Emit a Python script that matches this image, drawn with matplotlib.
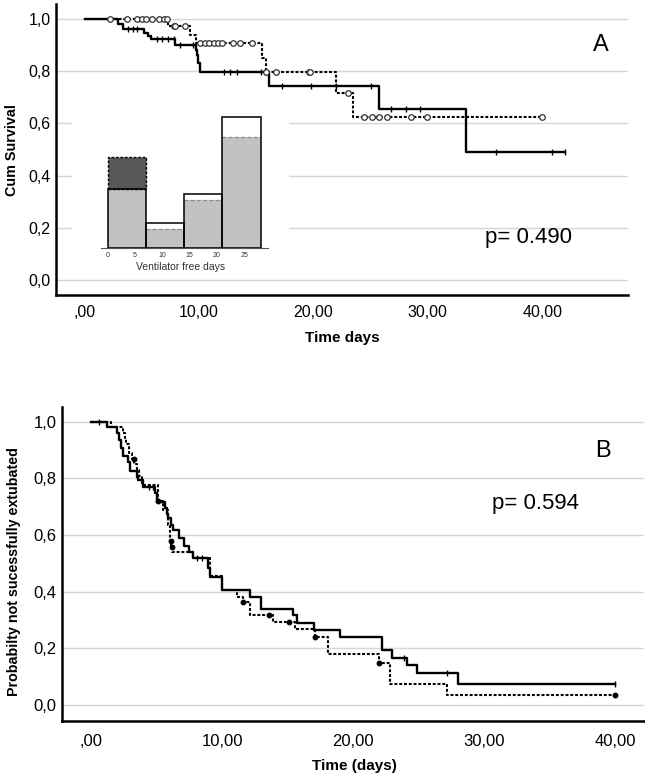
import numpy as np
import matplotlib
matplotlib.use("Agg")
import matplotlib.pyplot as plt

plt.rcParams['font.family'] = ['Liberation Sans', 'DejaVu Sans']

# panel A: cumulative survival (solid / dotted group)
a_solid_t = [0, 2.9, 3.4, 5.15, 5.58, 5.8, 7.9, 9.75, 9.85, 9.95, 10.1, 16.1, 25.7, 33.3]
a_solid_s = [1.0, 0.978, 0.96, 0.944, 0.932, 0.921, 0.90, 0.88, 0.86, 0.83, 0.797, 0.744, 0.653, 0.489]
a_solid_end = 42.0
a_solid_cens = [3.8, 4.2, 4.6, 6.3, 6.8, 7.3, 7.8, 8.3, 9.5, 12.2, 12.7, 13.3, 15.4, 15.8,
                17.25, 19.8, 22.0, 25.0, 26.8, 28.1, 29.3, 36.0, 40.9, 42.0]

a_dot_t = [0, 7.33, 9.2, 9.7, 15.5, 15.9, 22.0, 23.5]
a_dot_s = [1.0, 0.972, 0.938, 0.906, 0.848, 0.795, 0.714, 0.623]
a_dot_end = 40.0
a_dot_cens = [2.2, 3.7, 4.6, 5.0, 5.4, 5.9, 6.5, 6.9, 7.2, 7.8, 7.9, 8.8, 10.1, 10.5, 10.9,
              11.3, 11.7, 12.0, 13.0, 13.6, 14.6, 15.9, 16.7, 19.6, 19.7, 23.0, 24.4, 25.1,
              25.7, 26.4, 28.5, 29.9, 40.0]

# inset: ventilator free days (proportions per bin)
vfd_edges = [0, 7, 14, 21, 28]
vfd_solid = [0.222, 0.093, 0.202, 0.486]
vfd_dot = [0.34, 0.071, 0.18, 0.414]
vfd_ticks = [0, 5, 10, 15, 20, 25]

# panel B: probability not successfully extubated
b_solid_t = [0, 1.23, 1.95, 2.12, 2.25, 2.40, 2.78, 2.96, 3.47, 3.6, 3.98, 4.87, 5.0, 5.63,
             5.76, 5.89, 6.07, 6.27, 6.7, 7.1, 7.45, 7.75, 8.9, 9.05, 10.0, 12.1, 13.0, 15.4,
             15.7, 17.0, 19.0, 22.2, 23.0, 24.1, 24.9, 28.0]
b_solid_s = [1.0, 0.982, 0.959, 0.936, 0.906, 0.88, 0.859, 0.826, 0.806, 0.794, 0.771, 0.747,
             0.718, 0.694, 0.676, 0.659, 0.635, 0.618, 0.59, 0.56, 0.541, 0.518, 0.483, 0.452,
             0.406, 0.38, 0.338, 0.318, 0.291, 0.266, 0.24, 0.195, 0.168, 0.14, 0.113, 0.075]
b_solid_end = 40.0
b_solid_cens = [0.6, 4.4, 4.7, 8.1, 8.5, 23.9, 27.2, 40.0]

b_dot_t = [0, 1.5, 2.45, 2.6, 2.7, 2.9, 3.15, 3.3, 3.5, 3.65, 3.9, 5.1, 5.5, 5.9, 6.0, 6.1,
           6.2, 7.8, 9.1, 10.0, 11.1, 11.6, 12.1, 13.9, 15.55, 17.1, 18.1, 22.0, 22.8, 27.2]
b_dot_s = [1.0, 0.98, 0.96, 0.94, 0.92, 0.89, 0.87, 0.85, 0.83, 0.81, 0.775, 0.72, 0.69, 0.636,
           0.58, 0.559, 0.542, 0.518, 0.454, 0.407, 0.38, 0.365, 0.318, 0.295, 0.268, 0.24,
           0.18, 0.148, 0.075, 0.036]
b_dot_end = 40.0
b_dot_cens = [3.25, 5.14, 6.09, 6.15, 11.6, 13.6, 15.1, 17.1, 22.0, 40.0]

x_ticks = [0, 10, 20, 30, 40]
x_labels = [',00', '10,00', '20,00', '30,00', '40,00']
y_ticks = [0, 0.2, 0.4, 0.6, 0.8, 1.0]
y_labels = ['0,0', '0,2', '0,4', '0,6', '0,8', '1,0']

W, H = 645, 779
fig = plt.figure(figsize=(W / 100, H / 100), dpi=100)


def px_box(l, t, r, b):
    return [l / W, 1 - b / H, (r - l) / W, (b - t) / H]


def km(ax, t, s, end, cens, dotted, mk, **mkw):
    t = np.array(t)
    s = np.array(s)
    xs = np.append(t, end)
    ys = np.append(s, s[-1])
    if dotted:
        ax.step(xs, ys, where='post', color='black', lw=1.5, ls=(0, (1.4, 0.9)), zorder=4)
    else:
        ax.step(xs, ys, where='post', color='black', lw=1.7, zorder=5)
    c = np.array(cens)
    cy = s[np.searchsorted(t, c, side='right') - 1]
    ax.plot(c, cy, ls='none', marker=mk, zorder=6, **mkw)


def base_axes(ax, xlim, ylim, fs):
    ax.set_xlim(*xlim)
    ax.set_ylim(*ylim)
    for sp in ['top', 'right']:
        ax.spines[sp].set_visible(False)
    for sp in ['left', 'bottom']:
        ax.spines[sp].set_linewidth(1.8)
    ax.set_xticks(x_ticks)
    ax.set_xticklabels(x_labels)
    ax.set_yticks(y_ticks)
    ax.set_yticklabels(y_labels)
    ax.tick_params(axis='both', length=0, labelsize=fs)
    ax.tick_params(axis='x', pad=7)
    ax.tick_params(axis='y', pad=4)
    ax.grid(axis='y', color='#d6d6d6', lw=1.0, zorder=0)
    ax.set_axisbelow(True)


# ---- panel A ----
axA = fig.add_axes(px_box(56, 4, 628, 295))
base_axes(axA, (-2.5, 47.5), (-0.057, 1.056), 11.5)
km(axA, a_solid_t, a_solid_s, a_solid_end, a_solid_cens, False, '|',
   color='black', ms=5, mew=1.0)
km(axA, a_dot_t, a_dot_s, a_dot_end, a_dot_cens, True, 'o',
   mfc='white', mec='#333333', ms=4.0, mew=0.9)

fig.text(12 / W, 1 - 150 / H, 'Cum Survival', rotation=90, fontsize=10.4,
         fontweight='bold', ha='center', va='center')
fig.text(342 / W, 1 - 338 / H, 'Time days', fontsize=11, fontweight='bold',
         ha='center', va='center')
fig.text(485 / W, 1 - 237 / H, 'p= 0.490', fontsize=16, ha='left', va='center')
fig.text(601 / W, 1 - 45 / H, 'A', fontsize=17, ha='center', va='center')

# inset histogram
axI = fig.add_axes(px_box(72, 100, 289, 248.3), facecolor='white', zorder=3)
axI.set_xlim(-6.54, 33.2)
axI.set_ylim(0, 0.551)
for sp in ['top', 'right', 'left']:
    axI.spines[sp].set_visible(False)
axI.spines['bottom'].set_bounds(-1.2, 29.3)
axI.spines['bottom'].set_linewidth(0.8)
axI.spines['bottom'].set_color('#555555')
axI.set_yticks([])
axI.set_xticks(vfd_ticks)
axI.tick_params(axis='x', length=0, labelsize=5, pad=3, labelcolor='#333333')
for i in range(4):
    x0 = vfd_edges[i]
    w = vfd_edges[i + 1] - vfd_edges[i]
    s, d = vfd_solid[i], vfd_dot[i]
    axI.bar(x0, min(s, d), width=w, align='edge', color='#c2c2c2', edgecolor='none', zorder=1)
    if d > s:
        axI.bar(x0, d - s, bottom=s, width=w, align='edge', color='#575757',
                edgecolor='black', lw=1.0, ls=(0, (2, 1.2)), zorder=2)
    else:
        axI.plot([x0, x0 + w], [d, d], color='#8a8a8a', lw=0.9, ls=(0, (3, 2)), zorder=2)
    axI.bar(x0, s, width=w, align='edge', fill=False, edgecolor='black', lw=1.1, zorder=3)
fig.text(181 / W, 1 - 266.5 / H, 'Ventilator free days', fontsize=7.5,
         ha='center', va='center', color='#333333')

# ---- panel B ----
axB = fig.add_axes(px_box(62.3, 406.7, 644, 721))
base_axes(axB, (-2.2, 42.2), (-0.056, 1.053), 12)
axB.tick_params(axis='x', pad=9)
km(axB, b_solid_t, b_solid_s, b_solid_end, b_solid_cens, False, '|',
   color='black', ms=5, mew=1.0)
km(axB, b_dot_t, b_dot_s, b_dot_end, b_dot_cens, True, 'o',
   color='black', ms=3.2)

fig.text(14 / W, 1 - 572 / H, 'Probabilty not sucessfully extubated', rotation=90,
         fontsize=10.3, fontweight='bold', ha='center', va='center')
fig.text(354 / W, 1 - 766 / H, 'Time (days)', fontsize=11, fontweight='bold',
         ha='center', va='center')
fig.text(492 / W, 1 - 503 / H, 'p= 0.594', fontsize=16, ha='left', va='center')
fig.text(603 / W, 1 - 451 / H, 'B', fontsize=17, ha='center', va='center')

fig.savefig('out.png', dpi=100)
